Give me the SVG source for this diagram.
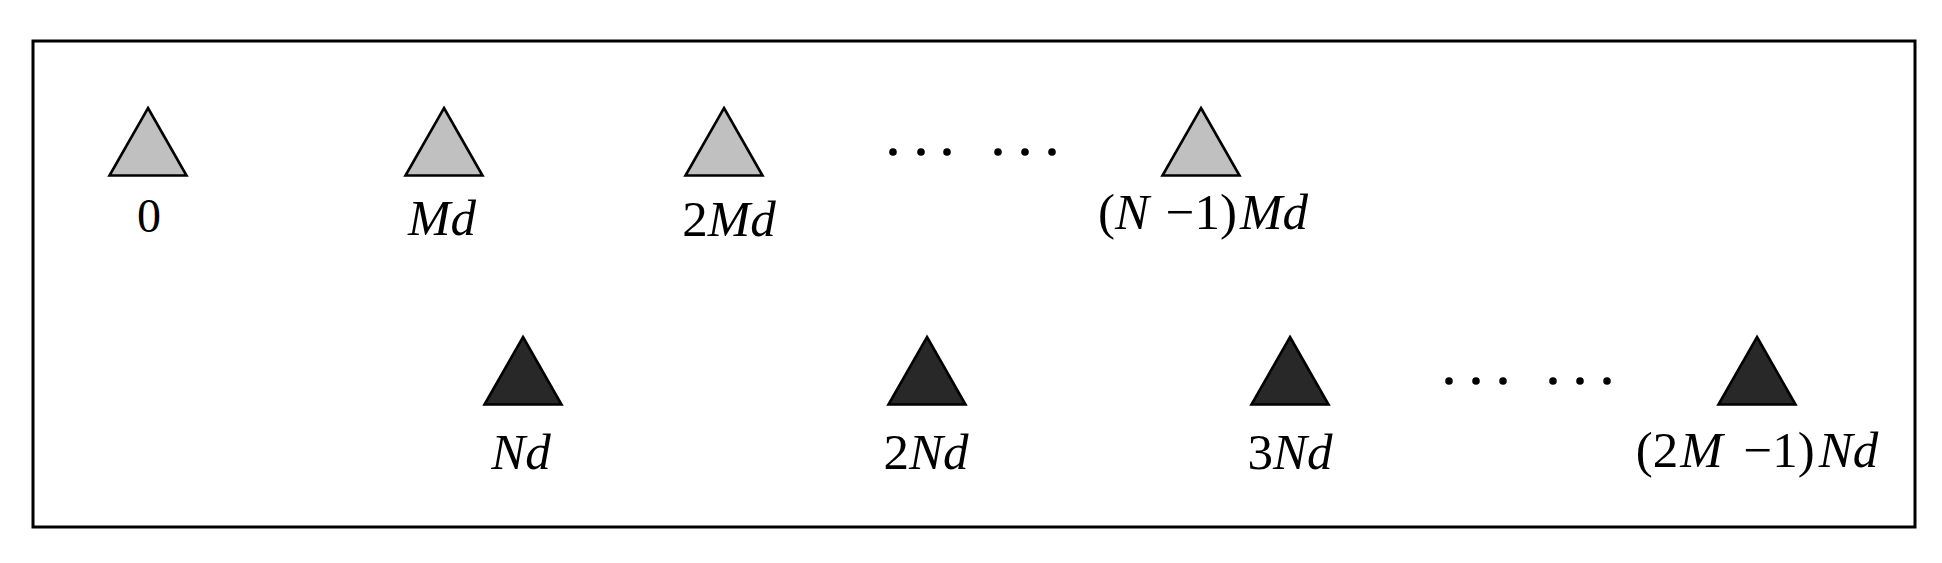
<svg xmlns="http://www.w3.org/2000/svg" width="1942" height="563" viewBox="0 0 1942 563">
<style>
.frame{fill:none;stroke:#000;stroke-width:3}
.tx{stroke:#000;stroke-width:2.6;stroke-linejoin:miter}
.light{fill:#c0c0c0}
.dark{fill:#282828}
.lbl{font-family:"Liberation Serif","Times New Roman",serif;font-size:51px;fill:#000;text-anchor:middle}
.it{font-style:italic}
.dot{fill:#000}
</style>
<defs>
<path id="tri" d="M0,0 L38.5,67.5 L-38.5,67.5 Z"/>
</defs>
<rect width="1942" height="563" fill="#fff"/>
<rect class="frame" x="33" y="41" width="1882" height="486"/>
<g id="connectors"/>
<g id="n0"><use href="#tri" x="148" y="108" class="tx light"/><text class="lbl" x="149" y="232" style="font-size:48px">0</text></g>
<g id="nMd"><use href="#tri" x="444" y="108" class="tx light"/><text class="lbl it" x="442" y="235">Md</text></g>
<g id="n2Md"><use href="#tri" x="724" y="108" class="tx light"/><text class="lbl" x="729" y="236">2<tspan class="it">Md</tspan></text></g>
<g id="dotsTop"><circle class="dot" cx="893" cy="152" r="3.8"/><circle class="dot" cx="921" cy="152" r="3.8"/><circle class="dot" cx="947" cy="152" r="3.8"/><circle class="dot" cx="998" cy="152" r="3.8"/><circle class="dot" cx="1025" cy="152" r="3.8"/><circle class="dot" cx="1052" cy="152" r="3.8"/></g>
<g id="nN1Md"><use href="#tri" x="1201" y="108" class="tx light"/><text class="lbl" x="1203" y="229">(<tspan class="it">N</tspan> <tspan dx="4">−1)</tspan><tspan class="it" dx="3">Md</tspan></text></g>
<g id="nNd"><use href="#tri" x="523" y="337" class="tx dark"/><text class="lbl it" x="521" y="469">Nd</text></g>
<g id="n2Nd"><use href="#tri" x="927" y="337" class="tx dark"/><text class="lbl" x="926" y="469">2<tspan class="it">Nd</tspan></text></g>
<g id="n3Nd"><use href="#tri" x="1290" y="337" class="tx dark"/><text class="lbl" x="1290" y="469">3<tspan class="it">Nd</tspan></text></g>
<g id="dotsBottom"><circle class="dot" cx="1449" cy="381" r="3.8"/><circle class="dot" cx="1476" cy="381" r="3.8"/><circle class="dot" cx="1503" cy="381" r="3.8"/><circle class="dot" cx="1553" cy="381" r="3.8"/><circle class="dot" cx="1580" cy="381" r="3.8"/><circle class="dot" cx="1607" cy="381" r="3.8"/></g>
<g id="n2M1Nd"><use href="#tri" x="1757" y="337" class="tx dark"/><text class="lbl" x="1757" y="467">(2<tspan class="it" dx="2">M</tspan> <tspan dx="8">−1)</tspan><tspan class="it" dx="4">Nd</tspan></text></g>
</svg>
